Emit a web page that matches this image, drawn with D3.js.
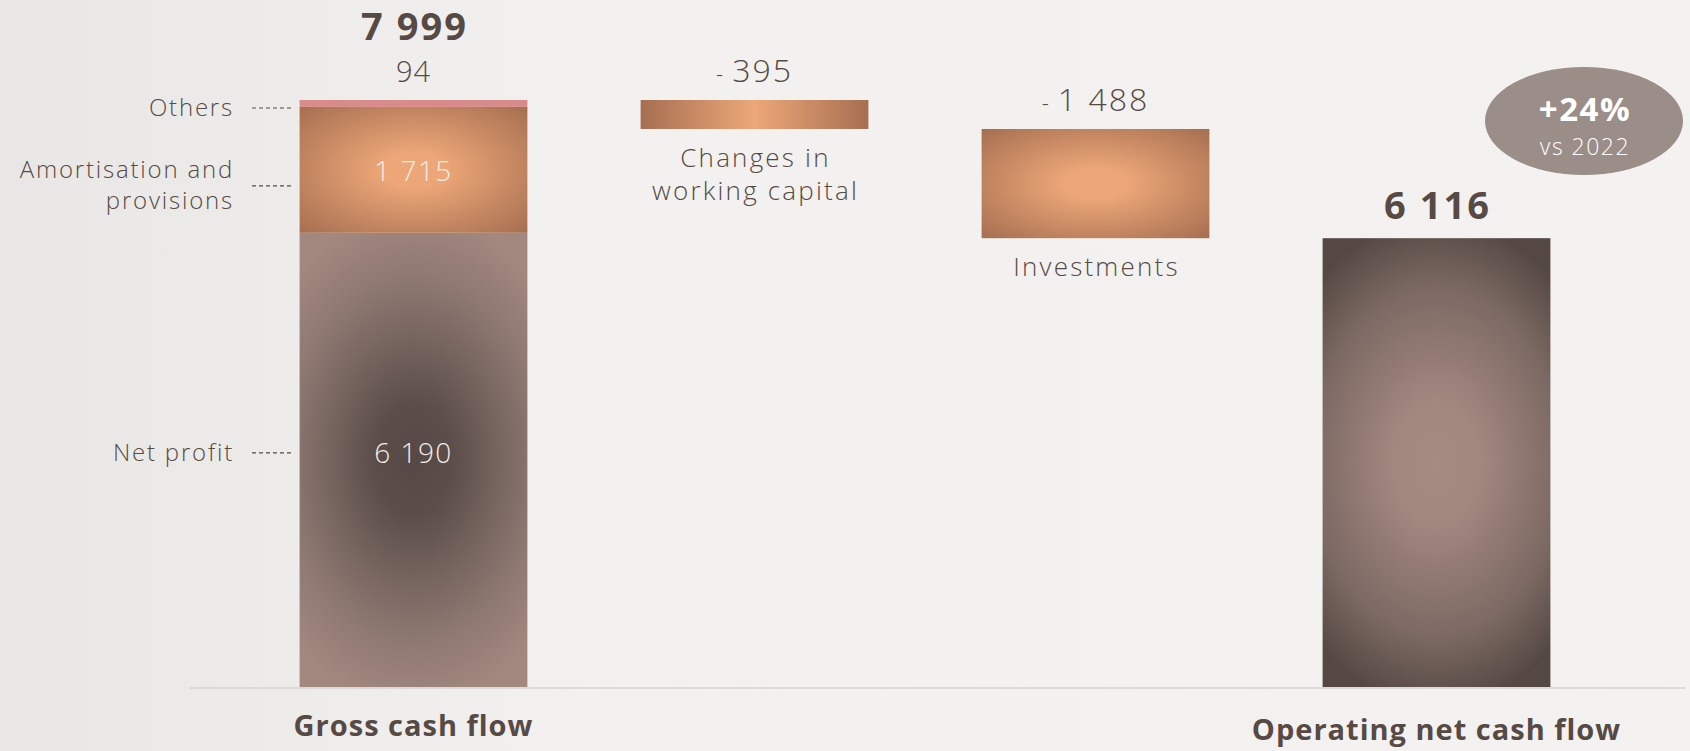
<!DOCTYPE html>
<html>
<head>
<meta charset="utf-8">
<script src="https://d3js.org/d3.v7.min.js"></script>
<style>
  html, body { margin: 0; padding: 0; background: #f1f0ee; }
  svg { display: block; font-family: "Open Sans", "Lato", sans-serif; }
</style>
</head>
<body>
<div id="chart"></div>
<script>
"use strict";

// data
var categories = ["Gross cash flow", "Changes in working capital", "Investments", "Operating net cash flow"];
var grossParts = ["Net profit", "Amortisation and provisions", "Others"];
var grossValues = [6190, 1715, 94];
var grossTotal = 7999;
var deltas = [-395, -1488];
var netTotal = 6116;
var growthLabel = "+24%";
var growthSub = "vs 2022";

var width = 1690, height = 751;

var svg = d3.select("#chart").append("svg")
    .attr("width", width)
    .attr("height", height);

var defs = svg.append("defs");

// background wash
var bg = defs.append("linearGradient").attr("id", "bg").attr("x1", 0).attr("x2", 1);
bg.append("stop").attr("offset", 0).attr("stop-color", "#e9e7e5");
bg.append("stop").attr("offset", 0.35).attr("stop-color", "#f2f1ef");
bg.append("stop").attr("offset", 1).attr("stop-color", "#f3f2f0");
svg.append("rect").attr("width", width).attr("height", height).attr("fill", "url(#bg)");

var x = d3.scaleBand()
    .domain(categories)
    .range([243, 1607])
    .paddingInner(0.332)
    .paddingOuter(0.166);

var y = d3.scaleLinear()
    .domain([0, grossTotal])
    .range([687, 100]);

var textColor = "#574a44";

// elliptical glow gradient placed in user space
function glow(id, cx, cy, rx, ry, stops) {
  var g = defs.append("radialGradient").attr("id", id)
      .attr("gradientUnits", "userSpaceOnUse")
      .attr("cx", 0).attr("cy", 0).attr("r", 1)
      .attr("gradientTransform", "translate(" + cx + "," + cy + ") scale(" + rx + "," + ry + ")");
  stops.forEach(function (s) {
    g.append("stop").attr("offset", s[0]).attr("stop-color", s[1]);
  });
}
function radial(id, inner, outer) {
  var g = defs.append("radialGradient").attr("id", id)
      .attr("cx", "50%").attr("cy", "50%").attr("r", "70%");
  g.append("stop").attr("offset", 0).attr("stop-color", inner);
  g.append("stop").attr("offset", 0.2).attr("stop-color", inner);
  g.append("stop").attr("offset", 1).attr("stop-color", outer);
}
radial("gAmort", "#eca677", "#a66f51");
radial("gInv", "#eca677", "#a66f51");

var lin = defs.append("linearGradient").attr("id", "gWc").attr("x1", 0).attr("x2", 1);
lin.append("stop").attr("offset", 0).attr("stop-color", "#a66f51");
lin.append("stop").attr("offset", 0.5).attr("stop-color", "#eda778");
lin.append("stop").attr("offset", 1).attr("stop-color", "#a66f51");

// baseline
svg.append("line")
    .attr("x1", 190).attr("x2", 1685)
    .attr("y1", y(0) + 1).attr("y2", y(0) + 1)
    .attr("stroke", "#d6d3d0").attr("stroke-width", 1.5);

// gross cash flow stack
var stack = [];
var acc = 0;
grossValues.forEach(function (v, i) {
  stack.push({ name: grossParts[i], y0: acc, y1: acc + v, value: v });
  acc += v;
});

var bx0 = x(categories[0]), bw = x.bandwidth();
glow("gNet", bx0 + bw / 2, (y(stack[0].y0) + y(stack[0].y1)) / 2, 175, 250,
  [[0, "#564945"], [0.22, "#5b4d49"], [0.7, "#8c7770"], [1, "#a3887f"]]);
var fills = ["url(#gNet)", "url(#gAmort)", "#d98a8a"];
// label nudges (px) relative to each segment middle
var labelShift = [-7, 16, 0];

var g0 = svg.append("g");
g0.selectAll("rect").data(stack).enter().append("rect")
    .attr("x", bx0)
    .attr("width", bw)
    .attr("y", function (d) { return y(d.y1); })
    .attr("height", function (d) { return y(d.y0) - y(d.y1); })
    .attr("fill", function (d, i) { return fills[i]; });

var fmt = function (v) { return d3.format(",")(Math.abs(v)).replace(/,/g, " "); };

// values inside bars
g0.selectAll(".inlab").data(stack.slice(0, 2)).enter().append("text")
    .attr("x", bx0 + bw / 2)
    .attr("y", function (d, i) { return (y(d.y0) + y(d.y1)) / 2 + (i === 0 ? -7 : 1) + 10; })
    .attr("text-anchor", "middle")
    .attr("fill", "#f4ece8")
    .attr("font-size", 28)
    .attr("font-weight", 300)
    .attr("letter-spacing", 1.5)
    .text(function (d) { return fmt(d.value); });

// left labels with dashed leaders
var leftLines = [["Net profit"], ["Amortisation and", "provisions"], ["Others"]];
stack.forEach(function (d, k) {
  var cy = (y(d.y0) + y(d.y1)) / 2 + labelShift[k];
  if (k === 2) cy = y(d.y1) + 8;
  svg.append("line")
      .attr("x1", 252).attr("x2", 294)
      .attr("y1", cy).attr("y2", cy)
      .attr("stroke", textColor).attr("stroke-width", 1.2)
      .attr("stroke-dasharray", "4,3");
  var t = svg.append("text")
      .attr("text-anchor", "end")
      .attr("fill", textColor)
      .attr("font-size", 24)
      .attr("font-weight", 300)
      .attr("letter-spacing", 1.8);
  var n = leftLines[k].length;
  leftLines[k].forEach(function (s, i) {
    t.append("tspan")
        .attr("x", 234)
        .attr("y", cy + 8 + (i - (n - 1) / 2) * 31)
        .text(s);
  });
});

// top labels of gross bar
svg.append("text")
    .attr("x", bx0 + bw / 2)
    .attr("y", y(grossTotal) - 18)
    .attr("text-anchor", "middle").attr("fill", textColor)
    .attr("font-size", 29).attr("font-weight", 300)
    .attr("letter-spacing", 1)
    .text(fmt(grossValues[2]));
svg.append("text")
    .attr("x", bx0 + bw / 2 + 1)
    .attr("y", 40)
    .attr("text-anchor", "middle").attr("fill", textColor)
    .attr("font-size", 38).attr("font-weight", 700)
    .attr("letter-spacing", 2)
    .text(fmt(grossTotal));

// floating delta bars
var level = grossTotal;
var floats = [];
deltas.forEach(function (v, i) {
  floats.push({ cat: categories[i + 1], top: level, bottom: level + v, value: v });
  level += v;
});
var floatFills = ["url(#gWc)", "url(#gInv)"];
var floatNames = [["Changes in", "working capital"], ["Investments"]];

svg.selectAll(".float").data(floats).enter().append("rect")
    .attr("x", function (d) { return x(d.cat); })
    .attr("width", x.bandwidth())
    .attr("y", function (d) { return y(d.top); })
    .attr("height", function (d) { return y(d.bottom) - y(d.top); })
    .attr("fill", function (d, i) { return floatFills[i]; });

floats.forEach(function (d, i) {
  var cx = x(d.cat) + x.bandwidth() / 2;
  var t = svg.append("text")
      .attr("x", cx).attr("y", y(d.top) - 18)
      .attr("text-anchor", "middle").attr("fill", textColor)
      .attr("font-weight", 300);
  t.append("tspan").attr("font-size", 22).text("-");
  t.append("tspan").attr("font-size", 32).attr("dx", 9)
      .attr("letter-spacing", 2).text(fmt(d.value));
  var names = floatNames[i];
  var lab = svg.append("text")
      .attr("text-anchor", "middle").attr("fill", textColor)
      .attr("font-size", 26).attr("font-weight", 300)
      .attr("letter-spacing", 2.2);
  names.forEach(function (s, j) {
    lab.append("tspan").attr("x", cx + 1)
        .attr("y", y(d.bottom) + 38 + j * 33)
        .text(s);
  });
});

// operating net cash flow bar
var bx3 = x(categories[3]);
var cx4 = bx3 + bw / 2;
glow("gOp", cx4, (y(netTotal) + y(0)) / 2, 175, 245,
  [[0, "#a68b83"], [0.25, "#a2877f"], [0.7, "#7d6a64"], [1, "#554843"]]);
svg.append("rect")
    .attr("x", bx3)
    .attr("width", bw)
    .attr("y", y(netTotal))
    .attr("height", y(0) - y(netTotal))
    .attr("fill", "url(#gOp)");
svg.append("text")
    .attr("x", cx4 + 1).attr("y", y(netTotal) - 19)
    .attr("text-anchor", "middle").attr("fill", textColor)
    .attr("font-size", 38).attr("font-weight", 700)
    .attr("letter-spacing", 2)
    .text(fmt(netTotal));

// growth bubble
svg.append("ellipse")
    .attr("cx", 1584).attr("cy", 121)
    .attr("rx", 99).attr("ry", 54)
    .attr("fill", "#9b8d87");
svg.append("text")
    .attr("x", 1585).attr("y", 121)
    .attr("text-anchor", "middle").attr("fill", "#ffffff")
    .attr("font-size", 33).attr("font-weight", 700)
    .attr("letter-spacing", 1.5)
    .text(growthLabel);
svg.append("text")
    .attr("x", 1585).attr("y", 155)
    .attr("text-anchor", "middle").attr("fill", "#ffffff")
    .attr("font-size", 23).attr("font-weight", 300)
    .attr("letter-spacing", 1.5)
    .text(growthSub);

// category labels
svg.append("text")
    .attr("x", bx0 + bw / 2).attr("y", 736)
    .attr("text-anchor", "middle").attr("fill", textColor)
    .attr("font-size", 29).attr("font-weight", 700)
    .attr("letter-spacing", 1)
    .text(categories[0]);
svg.append("text")
    .attr("x", cx4).attr("y", 740)
    .attr("text-anchor", "middle").attr("fill", textColor)
    .attr("font-size", 29).attr("font-weight", 700)
    .attr("letter-spacing", 1)
    .text(categories[3]);
</script>
</body>
</html>
